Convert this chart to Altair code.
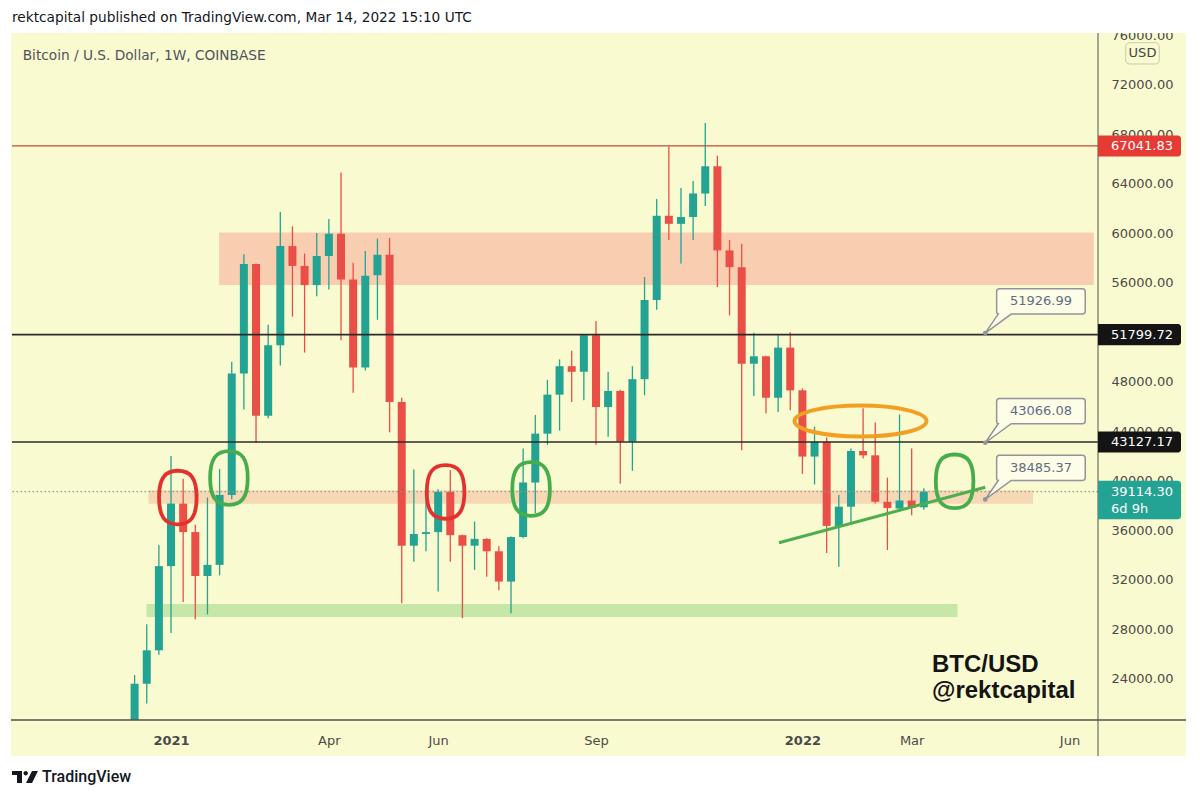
import altair as alt
import pandas as pd

# ---------------- data ----------------
dates = pd.date_range("2020-12-14", periods=66, freq="7D").strftime("%Y-%m-%d").tolist()

opens = [19200, 23600, 26300, 33100, 38150, 35850, 32300, 33200, 38850, 48650,
         57500, 45250, 50950, 58950, 57350, 55800, 58150, 59950, 56250, 49150,
         56600, 58250, 46350, 34750, 35700, 35850, 39100, 35600, 34750, 35300,
         34300, 31850, 35450, 39850, 43800, 46950, 49250, 48800, 51750, 45950,
         47250, 43150, 48200, 54600, 61400, 60750, 61300, 63200, 65400, 58600,
         57250, 49450, 50050, 46700, 50750, 47300, 41950, 43150, 36350, 37900,
         42400, 42050, 38300, 37750, 38400, 37850]
highs = [24300, 28400, 34800, 42000, 40150, 36450, 38650, 40950, 49600, 58300,
         57550, 52600, 61700, 60550, 58350, 60000, 61150, 64900, 57600, 58550,
         59550, 59600, 46700, 40900, 39000, 39300, 40850, 35650, 36700, 35350,
         34700, 35500, 42600, 45300, 48150, 49800, 50500, 51800, 52900, 48800,
         47350, 49250, 56450, 62750, 67000, 63650, 64200, 68900, 66250, 59450,
         59150, 51950, 50100, 51750, 52000, 47450, 44350, 43500, 38850, 42600,
         45850, 44700, 40250, 45350, 42600, 39400]
lows = [19000, 22000, 25950, 27700, 30200, 28800, 29200, 32350, 38500, 45750,
        43050, 45050, 49300, 53250, 50350, 54900, 55450, 51350, 47100, 48900,
        53000, 43900, 30100, 33450, 34300, 31050, 33450, 28900, 32800, 32250,
        31150, 29300, 35350, 37400, 42900, 44050, 46350, 46500, 42900, 43550,
        39750, 40800, 46900, 53800, 59450, 57550, 59450, 62200, 55650, 53350,
        42450, 46850, 45450, 45550, 45700, 40550, 39700, 34150, 33050, 36500,
        41800, 38150, 34400, 37550, 37200, 37650]
closes = [23600, 26300, 33100, 38150, 35850, 32300, 33200, 38850, 48650, 57500,
          45250, 50950, 58950, 57350, 55800, 58150, 59950, 56250, 49150, 56550,
          58250, 46350, 34750, 35700, 35850, 39100, 35600, 34750, 35300, 34300,
          31850, 35450, 39850, 43800, 46950, 49250, 48800, 51750, 45950, 47250,
          43150, 48200, 54600, 61400, 60750, 61300, 63200, 65400, 58600, 57250,
          49450, 50050, 46700, 50750, 47300, 41950, 43150, 36350, 37900, 42400,
          42050, 38300, 37800, 38400, 37800, 39114.30]

level_prices = [67041.83, 51799.72, 43127.17]
level_kinds = ["ath", "level", "level"]
last_price = 39114.30
countdown = "6d 9h"

band_starts = ["2021-01-31T17:00:00Z", "2020-12-22T00:00:00Z", "2020-12-20T20:00:00Z"]
band_ends = ["2022-06-20T00:00:00Z", "2022-05-16T02:00:00Z", "2022-04-02T10:00:00Z"]
band_lows = [55800, 38130, 29000]
band_highs = [60050, 39230, 30050]
band_kinds = ["supply", "retest", "demand"]

loop_dates = ["2021-01-07T22:00:00Z", "2021-02-06T09:00:00Z", "2021-06-11T07:00:00Z",
              "2021-07-30T14:00:00Z", "2022-03-31T18:00:00Z"]
loop_prices = [38640, 40220, 39090, 39330, 39950]
loop_kinds = ["rejected", "reclaimed", "rejected", "reclaimed", "reclaimed"]

ellipse_dates = ["2022-02-05T12:00:00Z"]
ellipse_prices = [44820]

trend_dates = ["2021-12-20T12:00:00Z", "2022-04-18T10:00:00Z"]
trend_prices = [34990, 39470]

note_dates = ["2022-04-18T10:00:00Z"] * 3
note_prices = [51926.99, 43066.08, 38485.37]

y_ticks = list(range(24000, 76001, 4000))
x_tick_dates = ["2021-01-04", "2021-04-05", "2021-06-07", "2021-09-06",
                "2022-01-03", "2022-03-07", "2022-06-06"]

header_text = "rektcapital published on TradingView.com, Mar 14, 2022 15:10 UTC"
symbol_text = "Bitcoin / U.S. Dollar, 1W, COINBASE"
brand_lines = ["BTC/USD", "@rektcapital"]

# ---------------- styling ----------------
BG = "#fafad0"
TEAL = "#22a393"
RED = "#ea4f47"
FONT = "DejaVu Sans"
W, H = 1086, 687


def ms(s):
    return int(pd.Timestamp(s, tz="UTC").value // 10**6)


base = pd.Timestamp("2020-12-14", tz="UTC")
x_domain = [int((base + pd.Timedelta(days=-67.8)).value // 10**6),
            int((base + pd.Timedelta(days=552.54)).value // 10**6)]

xscale = alt.Scale(type="utc", domain=x_domain, nice=False)
yscale = alt.Scale(domain=[20670, 76165], nice=False, zero=False)

xaxis = alt.Axis(values=[ms(d) for d in x_tick_dates],
                 labelExpr="utcmonth(datum.value) == 0 ? utcFormat(datum.value, '%Y') : utcFormat(datum.value, '%b')",
                 labelFontWeight={"condition": {"test": "utcmonth(datum.value) == 0", "value": "bold"}, "value": "normal"},
                 domain=False, ticks=False, tickSize=0, grid=False, labelPadding=20,
                 labelBaseline="middle", labelFont=FONT, labelFontSize=13, labelColor="#4a4a4a",
                 labelFlush=False, labelOverlap=False, title=None, zindex=0)
yaxis = alt.Axis(orient="right", values=y_ticks, format=".2f", domain=False, ticks=False, tickSize=0,
                 grid=False, labelPadding=13, labelFont=FONT, labelFontSize=13, labelColor="#4a4a4a",
                 labelAlign="left", labelBaseline="middle", labelOverlap=False, labelFlush=False,
                 title=None, zindex=0)


def X(f):
    return alt.X(f, type="temporal", scale=xscale, axis=xaxis)


def Y(f):
    return alt.Y(f, type="quantitative", scale=yscale, axis=yaxis)


one = pd.DataFrame({"k": [0]})


def txt(s, x, y, **kw):
    return alt.Chart(pd.DataFrame({"t": [s]})).mark_text(**kw).encode(
        x=alt.value(x), y=alt.value(y), text="t:N")


def box(x, x2, y, y2, **kw):
    return alt.Chart(one).mark_rect(**kw).encode(
        x=alt.value(x), x2=alt.value(x2), y=alt.value(y), y2=alt.value(y2))


# ---------------- tables ----------------
candles = pd.DataFrame({"date": dates, "open": opens, "high": highs, "low": lows, "close": closes})
bands_df = pd.DataFrame({"start": band_starts, "end": band_ends, "lo": band_lows,
                         "hi": band_highs, "kind": band_kinds})
levels_df = pd.DataFrame({"price": level_prices, "kind": level_kinds})
loops_df = pd.DataFrame({"date": loop_dates, "price": loop_prices, "kind": loop_kinds})
ellipse_df = pd.DataFrame({"date": ellipse_dates, "price": ellipse_prices})
trend_df = pd.DataFrame({"date": trend_dates, "price": trend_prices})
notes_df = pd.DataFrame({"date": note_dates, "price": note_prices})
tags_df = pd.DataFrame({"price": level_prices + [last_price], "kind": level_kinds + ["last"]})
count_df = pd.DataFrame({"price": [last_price], "t": [countdown]})

# ---------------- layers ----------------
bands = alt.Chart(bands_df).mark_rect(clip=True).encode(
    x=X("start"), x2="end", y=Y("lo"), y2="hi",
    color=alt.Color("kind:N", scale=alt.Scale(domain=["supply", "retest", "demand"],
                                              range=["#f8cdb0", "#f6d9b4", "#c7e7a8"]), legend=None))

cbase = alt.Chart(candles).transform_calculate(dir="datum.close >= datum.open ? 'up' : 'down'")
ccolor = alt.Color("dir:N", scale=alt.Scale(domain=["up", "down"], range=[TEAL, RED]), legend=None)
wicks = cbase.mark_rule(strokeWidth=1.3, clip=True).encode(x=X("date"), y=Y("low"), y2="high", color=ccolor)
bodies = cbase.mark_bar(size=8, clip=True).encode(x=X("date"), y=Y("open"), y2="close", color=ccolor)

levels = alt.Chart(levels_df).mark_rule().encode(
    y=Y("price"),
    color=alt.Color("kind:N", scale=alt.Scale(domain=["ath", "level"], range=["#c24a3e", "#2b2b2b"]), legend=None),
    strokeWidth=alt.StrokeWidth("kind:N", scale=alt.Scale(domain=["ath", "level"], range=[1.2, 1.6]), legend=None))

lastline = alt.Chart(pd.DataFrame({"price": [last_price]})).mark_rule(
    strokeDash=[1.5, 2.5], strokeWidth=1.2, color="#8c9a8c").encode(y=Y("price"))

LOOP = ("M 0 -26.8 C 13.2 -26.8 18.8 -18.8 18.8 0 C 18.8 18.8 13.2 26.8 0 26.8 "
        "C -13.2 26.8 -18.8 18.8 -18.8 0 C -18.8 -18.8 -13.2 -26.8 0 -26.8 Z")
loops = alt.Chart(loops_df).mark_point(shape=LOOP, size=4, filled=False, strokeWidth=3.8, opacity=1).encode(
    x=X("date"), y=Y("price"),
    color=alt.Color("kind:N", scale=alt.Scale(domain=["rejected", "reclaimed"],
                                              range=["#e3312d", "#46ad4c"]), legend=None))

ELLIPSE = "M -66 0 A 66 15.5 0 1 0 66 0 A 66 15.5 0 1 0 -66 0 Z"
ellipse = alt.Chart(ellipse_df).mark_point(shape=ELLIPSE, size=4, filled=False, strokeWidth=4,
                                           color="#f2a024", opacity=1).encode(x=X("date"), y=Y("price"))

trend = alt.Chart(trend_df).mark_line(color="#4cae4f", strokeWidth=3).encode(x=X("date"), y=Y("price"))

CALLOUT = ("M 14.4 -44.3 L 97 -44.3 Q 100 -44.3 100 -41.3 L 100 -22 Q 100 -19 97 -19 "
           "L 26 -19 L 0 0 L 13 -19 Q 11.4 -19 11.4 -22 L 11.4 -41.3 Q 11.4 -44.3 14.4 -44.3 Z")
notes = alt.Chart(notes_df)
note_box = notes.mark_point(shape=CALLOUT, size=4, filled=True, fill="#fdfde8", stroke="#8f959b",
                            strokeWidth=1.5, opacity=1).encode(x=X("date"), y=Y("price"))
note_dot = notes.mark_point(shape="circle", size=22, filled=True, color="#8f959b", opacity=1).encode(
    x=X("date"), y=Y("price"))
note_text = notes.transform_calculate(label="format(datum.price, '.2f')").mark_text(
    dx=55.7, dy=-31.6, font=FONT, fontSize=13, color="#5f6e82").encode(
    x=X("date"), y=Y("price"), text="label:N")

tags = alt.Chart(tags_df).transform_calculate(
    lo="datum.kind == 'last' ? datum.price - 2230 : datum.price - 850",
    hi="datum.kind == 'last' ? datum.price + 890 : datum.price + 850",
    label="format(datum.price, '.2f')")
tag_box = tags.mark_rect(cornerRadiusTopRight=3, cornerRadiusBottomRight=3).encode(
    x=alt.value(W), x2=alt.value(1169), y=Y("lo"), y2="hi",
    color=alt.Color("kind:N", scale=alt.Scale(domain=["ath", "level", "last"],
                                              range=["#e53b34", "#141414", TEAL]), legend=None))
tag_text = tags.mark_text(align="left", baseline="middle", font=FONT, fontSize=13, color="white").encode(
    x=alt.value(1099), y=Y("price"), text="label:N")
count_text = alt.Chart(count_df).mark_text(align="left", baseline="middle", font=FONT, fontSize=13,
                                           color="white", dy=17.6).encode(
    x=alt.value(1099), y=Y("price"), text="t:N")

# frame (panel outside area, separators)
header_bg = box(-4, 1174, -25, 0, color="white")
footer_bg = box(-4, 1174, 723, 760, color="white")
left_bg = box(-4, -1, 0, 723, color="white")
vsep = alt.Chart(one).mark_rule(color="#505050", strokeWidth=1).encode(
    x=alt.value(W), y=alt.value(0), y2=alt.value(723))
hsep = alt.Chart(one).mark_rule(color="#505050", strokeWidth=1.5).encode(
    x=alt.value(-1), x2=alt.value(1174), y=alt.value(H))
usd_box = box(1113.7, 1147.3, 9.7, 31, fill=BG, stroke="#c9c9b5", strokeWidth=1, cornerRadius=4)
usd_text = txt("USD", 1130.5, 20.3, font=FONT, fontSize=13, color="#444444", align="center", baseline="middle")

header = txt(header_text, 0, -15, font=FONT, fontSize=13.7, color="#131722", align="left", baseline="middle")
symbol = txt(symbol_text, 10.7, 23, font=FONT, fontSize=13.7, color="#50535e", align="left", baseline="middle")
brand1 = txt(brand_lines[0], 920, 632, font="Liberation Sans", fontSize=24, fontWeight="bold",
             color="#141414", align="left", baseline="middle")
brand2 = txt(brand_lines[1], 920, 658, font="Liberation Sans", fontSize=24, fontWeight="bold",
             color="#141414", align="left", baseline="middle")

TV_LOGO = ("M -13 -6 L -3 -6 L -3 6 L -8 6 L -8 -2 L -13 -2 Z "
           "M -1.5 -3.8 A 2.2 2.2 0 1 0 2.9 -3.8 A 2.2 2.2 0 1 0 -1.5 -3.8 Z "
           "M 7 -6 L 13 -6 L 7 6 L 1 6 Z")
logo = alt.Chart(one).mark_point(shape=TV_LOGO, size=4, filled=True, color="#131722", opacity=1).encode(
    x=alt.value(13), y=alt.value(744))
logo_text = txt("TradingView", 30, 744, font="Roboto", fontSize=16, fontWeight=500,
                color="#131722", align="left", baseline="middle")

chart = alt.layer(
    header_bg, footer_bg, left_bg,
    bands, wicks, bodies, levels, lastline,
    loops, ellipse, trend, note_box, note_dot, note_text,
    vsep, hsep, tag_box, tag_text, count_text, usd_box, usd_text,
    header, symbol, brand1, brand2, logo, logo_text,
).resolve_scale(color="independent", strokeWidth="independent").properties(
    width=W, height=H,
    padding={"left": 4, "top": 25, "right": 88, "bottom": 66},
    autosize=alt.AutoSizeParams(type="none"),
    background=BG,
).configure_view(strokeWidth=0)

chart.save("out.html", embed_options={"renderer": "svg", "actions": False})
